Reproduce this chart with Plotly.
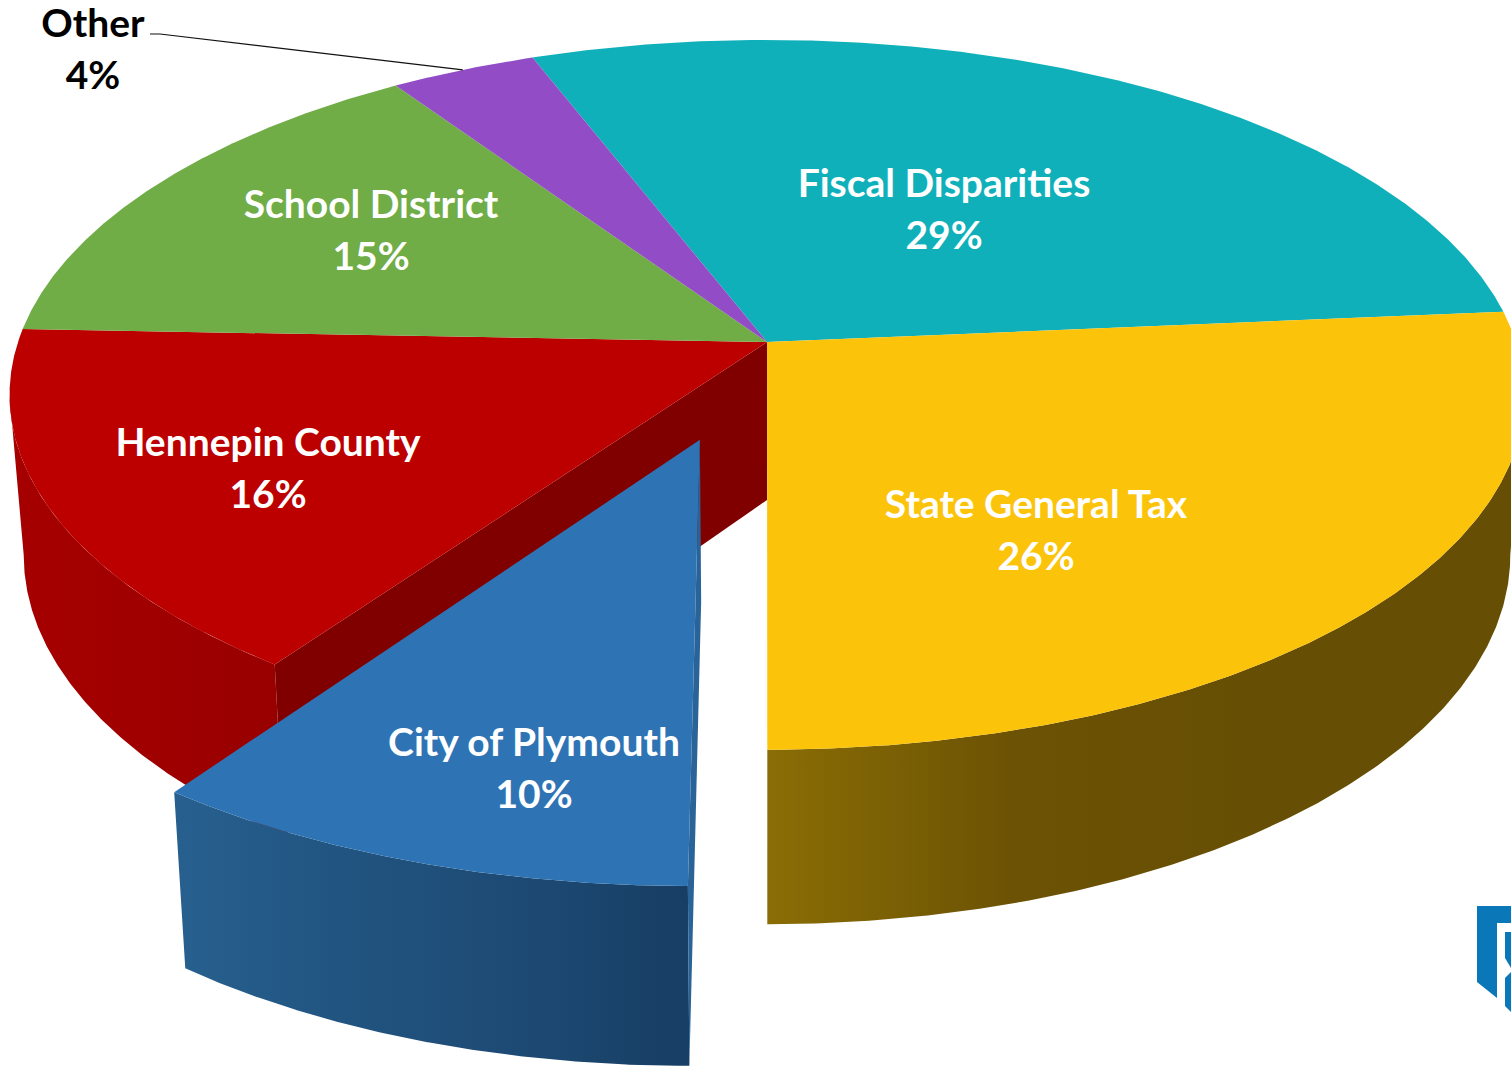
import numpy as np
import plotly.graph_objects as go

# --- data ---
categories = ["Fiscal Disparities", "State General Tax", "City of Plymouth",
              "Hennepin County", "School District", "Other"]
shares = [29.4, 26.4, 9.8, 15.8, 15.0, 3.6]
top_colors = ["#10b0bb", "#fcc30b", "#2e74b5", "#bc0000", "#70ad47", "#914cc6"]
wall_scales = {
    "State General Tax": ["#8a6d05", "#6b5204", "#664e04", "#664e04"],
    "City of Plymouth": ["#27608f", "#215480", "#1d4a74", "#173e64"],
    "Hennepin County": ["#a60000", "#a20000", "#9d0000", "#980000"],
}
exploded = "City of Plymouth"

# --- view of the tilted disc ---
W, H = 1511, 1067
CX = 767
TOP = dict(cy=342, rx=749, ry=347)
BOT = dict(cy=500, rx=735, ry=361)
K = 0.149
START = 339.1          # degrees clockwise from the back of the pie
EXPLODE = 0.284
LABEL_SIZE = 39

label_xy = {"Fiscal Disparities": (944, 187, 239), "State General Tax": (1036, 508, 560),
            "City of Plymouth": (534, 746, 798), "Hennepin County": (268, 446, 498),
            "School District": (371, 208, 260), "Other": (93, 27, 79)}


def project(u, v, level):
    d = 1 + K * np.asarray(v)
    return CX + level["rx"] * np.asarray(u) / d, level["cy"] - level["ry"] * np.asarray(v) / d


pct = 360 * np.array(shares) / sum(shares)
ends = START + np.cumsum(pct)
starts = ends - pct
sl = {}
for c, a0, a1 in zip(categories, starts, ends):
    off = EXPLODE if c == exploded else 0.0
    mid = np.radians((a0 + a1) / 2)
    sl[c] = dict(a0=np.radians(a0), a1=np.radians(a1),
                 ox=off * np.sin(mid), oy=off * np.cos(mid))


def rim(c, level):
    s = sl[c]
    t = np.linspace(s["a0"], s["a1"], 240)
    return project(s["ox"] + np.sin(t), s["oy"] + np.cos(t), level)


def apex(c, level):
    s = sl[c]
    return project(s["ox"], s["oy"], level)


fig = go.Figure()


def poly(x, y, color=None, scale=None):
    kw = dict(fillgradient=dict(type="horizontal",
                                colorscale=[[i / (len(scale) - 1), col] for i, col in enumerate(scale)])) if scale else dict(fillcolor=color)
    fig.add_trace(go.Scatter(x=x, y=y, mode="lines", fill="toself", line=dict(width=0),
                             hoverinfo="skip", showlegend=False, **kw))


def wall(c, clip=None):
    """Outer wall; clip trims each rim at its silhouette point so the side edge runs tangent."""
    xt, yt = rim(c, TOP)
    xb, yb = rim(c, BOT)
    if clip == "left":
        i, j = np.argmin(xt), np.argmin(xb)
        xt, yt, xb, yb = xt[:i + 1], yt[:i + 1], xb[:j + 1], yb[:j + 1]
    elif clip == "right":
        i, j = np.argmax(xt), np.argmax(xb)
        xt, yt, xb, yb = xt[i:], yt[i:], xb[j:], yb[j:]
    poly(np.r_[xt, xb[::-1]], np.r_[yt, yb[::-1]], scale=wall_scales[c])


def radial_wall(c, angle, color):
    s = sl[c]
    u, v = s["ox"] + np.sin(angle), s["oy"] + np.cos(angle)
    xt, yt = project(u, v, TOP)
    xb, yb = project(u, v, BOT)
    ax, ay = apex(c, TOP)
    bx, by = apex(c, BOT)
    poly([ax, xt, xb, bx], [ay, yt, yb, by], color=color)


# side walls first, then the inner cut face of the county slice, then the tops
wall("State General Tax", clip="right")
wall("Hennepin County", clip="left")
radial_wall("Hennepin County", sl["Hennepin County"]["a0"], "#800000")
for c, col in zip(categories, top_colors):
    if c != exploded:
        xr, yr = rim(c, TOP)
        ax, ay = apex(c, TOP)
        poly(np.r_[ax, xr], np.r_[ay, yr], color=col)
wall(exploded)
radial_wall(exploded, sl[exploded]["a0"], "#2a6398")
xr, yr = rim(exploded, TOP)
ax, ay = apex(exploded, TOP)
poly(np.r_[ax, xr], np.r_[ay, yr], color=top_colors[categories.index(exploded)])

# leader for the smallest slice
t_mid = (sl["Other"]["a0"] + sl["Other"]["a1"]) / 2
lx, ly = project(np.sin(t_mid), np.cos(t_mid), TOP)
fig.add_trace(go.Scatter(x=[150, 160, float(lx)], y=[34, 34, float(ly)], mode="lines",
                         line=dict(color="#111111", width=1.2), hoverinfo="skip", showlegend=False))

# labels
font_kw = dict(family="Lato", size=LABEL_SIZE, weight=700)
for c, s in zip(categories, shares):
    x, y1, y2 = label_xy[c]
    color = "#000000" if c == "Other" else "#ffffff"
    fig.add_trace(go.Scatter(x=[x, x], y=[y1, y2], mode="text", text=[c, f"{round(s)}%"],
                             textposition="middle center", textfont=dict(color=color, **font_kw),
                             cliponaxis=False, hoverinfo="skip", showlegend=False))

LOGO = "#0a78b8"
fig.update_layout(
    width=W, height=H, margin=dict(l=0, r=0, t=0, b=0),
    paper_bgcolor="white", plot_bgcolor="white", showlegend=False,
    xaxis=dict(range=[0, W], visible=False, fixedrange=True),
    yaxis=dict(range=[H, 0], visible=False, fixedrange=True),
    shapes=[
        dict(type="path", xref="x", yref="y", line_width=0, fillcolor=LOGO, layer="below",
             path="M1477,906 L1511,906 L1511,923 L1497,923 L1497,998 L1477,982 Z"),
        dict(type="path", xref="x", yref="y", line_width=0, fillcolor=LOGO, layer="below",
             path="M1505,932 L1511,932 L1511,968 L1505,958 Z"),
        dict(type="path", xref="x", yref="y", line_width=0, fillcolor=LOGO, layer="below",
             path="M1505,978 L1511,972 L1511,1012 L1505,1006 Z"),
    ],
)
fig.write_html("out.html", config=dict(displayModeBar=False),
               post_script="document.body.style.margin='0';document.body.style.overflow='hidden';")
